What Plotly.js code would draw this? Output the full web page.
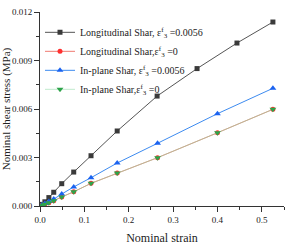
<!DOCTYPE html>
<html><head><meta charset="utf-8">
<script src="https://cdn.plot.ly/plotly-3.0.1.min.js"></script>
<style>html,body{margin:0;padding:0;background:#fff}#chart{width:297px;height:245px}</style>
</head><body><div id="chart"></div>
<script>
const strainLong = [0.0045, 0.011, 0.020, 0.031, 0.049, 0.076, 0.115, 0.174, 0.264, 0.354, 0.444, 0.525];
const stressLong056 = [0.0001, 0.00026, 0.00052, 0.00085, 0.00138, 0.0021, 0.00311, 0.00464, 0.0068, 0.0085, 0.01008, 0.01138];
const strainStd = [0.0045, 0.011, 0.020, 0.031, 0.049, 0.076, 0.115, 0.174, 0.265, 0.400, 0.525];
const stressLong0 = [0.00005, 0.00011, 0.0002, 0.00033, 0.00056, 0.00088, 0.0014, 0.00204, 0.00299, 0.00453, 0.00598];
const stressIn056 = [0.00007, 0.00016, 0.00028, 0.00043, 0.00074, 0.00118, 0.00175, 0.00266, 0.00388, 0.00571, 0.00728];
const stressIn0 = [0.00005, 0.00011, 0.0002, 0.00033, 0.00056, 0.00088, 0.0014, 0.00204, 0.00299, 0.00453, 0.00598];
const names = [
  "Longitudinal Shar, ε<sup>f</sup><sub>3</sub> =0.0056",
  "Longitudinal Shar,ε<sup>f</sup><sub>3</sub> =0",
  "In-plane Shar, ε<sup>f</sup><sub>3</sub> =0.0056",
  "In-plane Shar,ε<sup>f</sup><sub>3</sub> =0"
];
const traces = [
  {x: strainLong, y: stressLong056, name: names[0], mode: 'lines+markers',
   line: {color: '#555555', width: 1}, marker: {symbol: 'square', size: 5, color: '#3a3a3a'}},
  {x: strainStd, y: stressLong0, name: names[1], mode: 'lines+markers',
   line: {color: '#f07a70', width: 1}, marker: {symbol: 'circle', size: 5, color: '#ff3030'}},
  {x: strainStd, y: stressIn056, name: names[2], mode: 'lines+markers',
   line: {color: '#3d8bf0', width: 1}, marker: {symbol: 'triangle-up', size: 6, color: '#1a62f0'}},
  {x: strainStd, y: stressIn0, name: names[3], mode: 'lines+markers',
   line: {color: 'rgba(150,220,170,0.6)', width: 1}, marker: {symbol: 'triangle-down', size: 6, color: '#2ea34a'}}
];
const fnt = {family: 'Liberation Serif, Times New Roman, serif', color: '#222'};
const layout = {
  width: 297, height: 245,
  margin: {l: 40, r: 13, t: 12, b: 39},
  paper_bgcolor: '#fff', plot_bgcolor: '#fff',
  showlegend: true,
  legend: {x: 0.0, y: 0.97, xanchor: 'left', yanchor: 'top', bgcolor: 'rgba(0,0,0,0)',
    font: Object.assign({size: 10}, fnt), tracegroupgap: 0, itemwidth: 30},
  xaxis: {range: [0, 0.55], tickvals: [0, 0.1, 0.2, 0.3, 0.4, 0.5], ticktext: ['0.0','0.1','0.2','0.3','0.4','0.5'],
    ticks: 'outside', ticklen: 5, tickwidth: 1, tickcolor: '#333',
    minor: {dtick: 0.05, ticks: 'outside', ticklen: 3, tickcolor: '#333'},
    showline: true, linecolor: '#333', linewidth: 1, showgrid: false, zeroline: false,
    tickfont: Object.assign({size: 9}, fnt),
    title: {text: 'Nominal strain', font: Object.assign({size: 12}, fnt), standoff: 9}},
  yaxis: {range: [0, 0.012], tickvals: [0, 0.003, 0.006, 0.009, 0.012], ticktext: ['0.000','0.003','0.006','0.009','0.012'],
    ticks: 'outside', ticklen: 5, tickwidth: 1, tickcolor: '#333',
    minor: {dtick: 0.0015, ticks: 'outside', ticklen: 3, tickcolor: '#333'},
    showline: true, linecolor: '#333', linewidth: 1, showgrid: false, zeroline: false,
    tickfont: Object.assign({size: 9}, fnt),
    title: {text: 'Nominal shear stress (MPa)', font: Object.assign({size: 11}, fnt), standoff: 4}}
};
Plotly.newPlot('chart', traces, layout, {displayModeBar: false, staticPlot: true});
</script></body></html>
